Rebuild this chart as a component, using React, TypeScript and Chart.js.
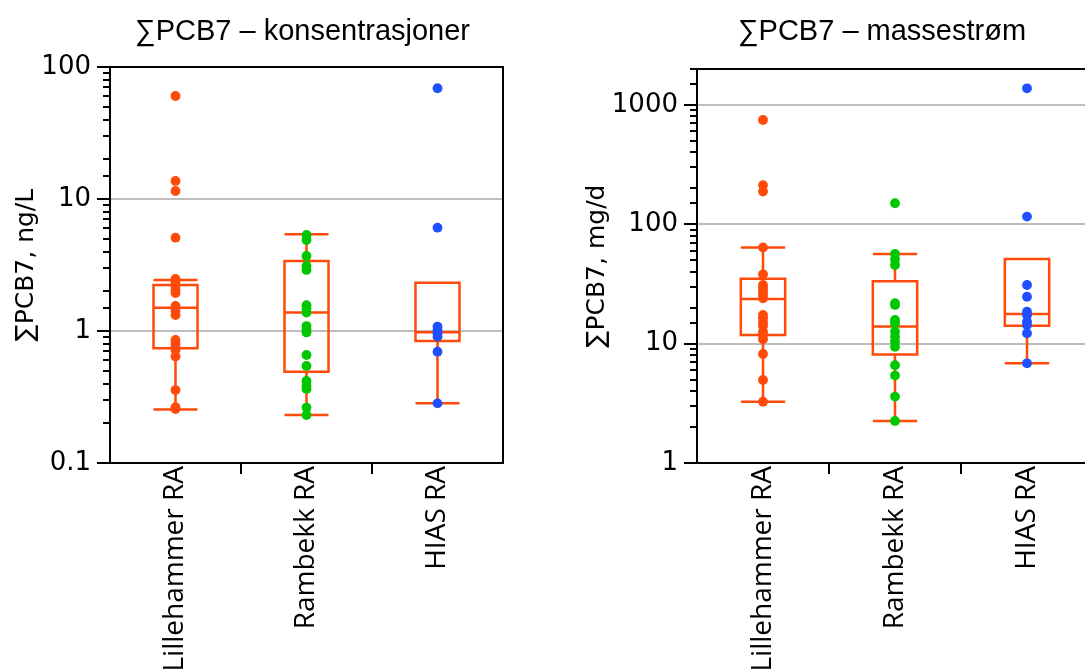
import { useEffect, useRef } from 'react';
import Chart from 'chart.js/auto';

const categories = ['Lillehammer RA', 'Rambekk RA', 'HIAS RA'];
const pointColors = ['#FF4A0A', '#00C800', '#1E50FF'];
const boxColor = '#FF4A0A';

// ∑PCB7 concentrations, ng/L
const concLillehammer = [60.3, 13.7, 11.5, 5.09, 2.48, 2.35, 2.19, 2.05, 1.94, 1.55, 1.44, 1.32, 0.855, 0.8, 0.757, 0.718, 0.641, 0.357, 0.265, 0.256];
const concRambekk = [5.34, 4.89, 3.7, 3.11, 2.9, 1.57, 1.48, 1.38, 1.09, 1.03, 0.975, 0.658, 0.543, 0.418, 0.383, 0.364, 0.263, 0.231];
const concHias = [69, 6.06, 1.08, 1.02, 0.961, 0.906, 0.697, 0.283];

// box statistics per plant, ng/L
const concWhiskerLow = [0.254, 0.231, 0.283];
const concQ1 = [0.74, 0.492, 0.84];
const concMedian = [1.5, 1.38, 0.977];
const concQ3 = [2.23, 3.39, 2.32];
const concWhiskerHigh = [2.43, 5.41, 2.32];

// ∑PCB7 mass flow, mg/d
const flowLillehammer = [748, 213, 188, 64, 38.1, 31, 29.1, 27.3, 25.6, 24, 17.4, 16.3, 15.1, 14.1, 12.6, 11.8, 10.9, 8.2, 4.96, 3.26];
const flowRambekk = [150, 56.4, 50.9, 45.6, 21.8, 21.1, 15.8, 14.8, 12.6, 11.4, 10.4, 9.4, 6.6, 5.4, 3.6, 2.25];
const flowHias = [1378, 116, 31, 24.7, 18.5, 17.4, 15.3, 14.3, 12.2, 6.84];

// box statistics per plant, mg/d
const flowWhiskerLow = [3.26, 2.25, 6.84];
const flowQ1 = [11.8, 8.1, 14.1];
const flowMedian = [23.7, 13.9, 17.7];
const flowQ3 = [35, 33.3, 51.2];
const flowWhiskerHigh = [64, 56.4, 51.2];

const concTickLabels = ['0.1', '1', '10', '100'];
const flowTickLabels = ['1', '10', '100', '1000'];

const GRID_GRAY = '#BDBDBD';

type PanelSpec = {
  title: string;
  titleShift: number;
  yTitle: string;
  yMin: number;
  yMax: number;
  tickLabels: string[];
  series: number[][];
  low: number[];
  q1: number[];
  median: number[];
  q3: number[];
  high: number[];
  width: number;
  height: number;
  padTop: number;
  padRight: number;
  yAxisWidth: number;
  yTitlePad: number;
};

const isDecade = (v: number) => {
  const l = Math.log10(v);
  return Math.abs(l - Math.round(l)) < 1e-6;
};

function decorPlugin(spec: PanelSpec) {
  return {
    id: 'panelDecor',
    beforeDatasetsDraw(chart: any) {
      const { ctx, chartArea } = chart;
      const x = chart.scales.x;
      const y = chart.scales.y;
      const band = x.getPixelForValue(1) - x.getPixelForValue(0);
      const half = band * 0.168;
      ctx.save();
      ctx.beginPath();
      ctx.rect(chartArea.left, chartArea.top, chartArea.right - chartArea.left, chartArea.bottom - chartArea.top);
      ctx.clip();
      ctx.strokeStyle = boxColor;
      ctx.lineWidth = 2.5;
      categories.forEach((_, i) => {
        const cx = x.getPixelForValue(i);
        const yLow = y.getPixelForValue(spec.low[i]);
        const yQ1 = y.getPixelForValue(spec.q1[i]);
        const yMed = y.getPixelForValue(spec.median[i]);
        const yQ3 = y.getPixelForValue(spec.q3[i]);
        const yHigh = y.getPixelForValue(spec.high[i]);
        ctx.beginPath();
        ctx.rect(cx - half, yQ3, half * 2, yQ1 - yQ3);
        ctx.moveTo(cx - half, yMed);
        ctx.lineTo(cx + half, yMed);
        ctx.moveTo(cx, yQ1);
        ctx.lineTo(cx, yLow);
        ctx.moveTo(cx, yQ3);
        ctx.lineTo(cx, yHigh);
        ctx.moveTo(cx - half, yLow);
        ctx.lineTo(cx + half, yLow);
        ctx.moveTo(cx - half, yHigh);
        ctx.lineTo(cx + half, yHigh);
        ctx.stroke();
      });
      ctx.restore();
    },
    afterDraw(chart: any) {
      const { ctx, chartArea } = chart;
      const { left, right, top, bottom } = chartArea;
      const x = chart.scales.x;
      const y = chart.scales.y;
      ctx.save();
      ctx.strokeStyle = '#000';
      ctx.lineWidth = 2;
      // frame
      ctx.strokeRect(left, top, right - left, bottom - top);
      // y tick marks, long at decades
      ctx.beginPath();
      y.ticks.forEach((t: any) => {
        const py = Math.round(y.getPixelForValue(t.value));
        const len = isDecade(t.value) ? 13 : 7;
        ctx.moveTo(left - len, py);
        ctx.lineTo(left, py);
      });
      // x tick marks between categories
      for (let i = 0; i < categories.length - 1; i++) {
        const px = Math.round((x.getPixelForValue(i) + x.getPixelForValue(i + 1)) / 2);
        ctx.moveTo(px, bottom);
        ctx.lineTo(px, bottom + 11);
      }
      ctx.stroke();
      // panel title
      ctx.fillStyle = '#000';
      ctx.font = '29px "Liberation Sans", Arial, sans-serif';
      ctx.textAlign = 'center';
      ctx.textBaseline = 'alphabetic';
      ctx.fillText(spec.title, (left + right) / 2 + spec.titleShift, 40);
      ctx.restore();
    },
  };
}

function Panel({ spec }: { spec: PanelSpec }) {
  const ref = useRef<HTMLCanvasElement | null>(null);
  useEffect(() => {
    if (!ref.current) return;
    const datasets = spec.series.map((vals, i) => ({
      label: categories[i],
      data: vals.map((v) => ({ x: categories[i], y: v })),
      backgroundColor: pointColors[i],
      borderColor: pointColors[i],
      pointBackgroundColor: pointColors[i],
      pointBorderColor: pointColors[i],
      pointBorderWidth: 0,
      pointRadius: 4.9,
      pointHoverRadius: 4.9,
      showLine: false,
    }));
    const chart = new Chart(ref.current, {
      type: 'scatter',
      data: { labels: categories, datasets },
      options: {
        animation: false,
        responsive: false,
        devicePixelRatio: 1,
        events: [],
        layout: { padding: { top: spec.padTop, right: spec.padRight, left: 0, bottom: 0 } },
        plugins: {
          legend: { display: false },
          tooltip: { enabled: false },
          title: { display: false },
        },
        scales: {
          x: {
            type: 'category',
            labels: categories,
            offset: true,
            grid: { display: false },
            border: { display: false },
            ticks: {
              color: '#000',
              font: { family: '"Open Sans", sans-serif', size: 28 },
              minRotation: 90,
              maxRotation: 90,
              padding: -5,
              autoSkip: false,
            },
            afterFit: (scale: any) => {
              scale.height = 207;
            },
          },
          y: {
            type: 'logarithmic',
            min: spec.yMin,
            max: spec.yMax,
            border: { display: false },
            grid: {
              drawTicks: false,
              lineWidth: 2,
              color: (c: any) => (c.tick && isDecade(c.tick.value) ? GRID_GRAY : 'rgba(0,0,0,0)'),
            },
            ticks: {
              autoSkip: false,
              color: '#000',
              padding: 19,
              font: { family: '"DejaVu Sans", sans-serif', size: 26 },
              callback: (value: any) => {
                const v = Number(value);
                const m = spec.tickLabels.find((l) => Math.abs(Math.log10(Number(l)) - Math.log10(v)) < 1e-6);
                return m ?? '';
              },
            },
            title: {
              display: true,
              text: spec.yTitle,
              color: '#000',
              font: { family: '"DejaVu Sans", sans-serif', size: 25 },
              padding: { top: spec.yTitlePad, bottom: 0 },
            },
            afterFit: (scale: any) => {
              scale.width = spec.yAxisWidth;
            },
          },
        },
      },
      plugins: [decorPlugin(spec)],
    } as any);
    return () => chart.destroy();
  }, [spec]);
  return <canvas ref={ref} width={spec.width} height={spec.height} style={{ display: 'block' }} />;
}

const concSpec: PanelSpec = {
  title: '∑PCB7 – konsentrasjoner',
  titleShift: -4,
  yTitle: '∑PCB7, ng/L',
  yMin: 0.1,
  yMax: 100,
  tickLabels: concTickLabels,
  series: [concLillehammer, concRambekk, concHias],
  low: concWhiskerLow,
  q1: concQ1,
  median: concMedian,
  q3: concQ3,
  high: concWhiskerHigh,
  width: 545,
  height: 670,
  padTop: 67,
  padRight: 42,
  yAxisWidth: 110,
  yTitlePad: 11,
};

const flowSpec: PanelSpec = {
  title: '∑PCB7 – massestrøm',
  titleShift: -13,
  yTitle: '∑PCB7, mg/d',
  yMin: 1,
  yMax: 2000,
  tickLabels: flowTickLabels,
  series: [flowLillehammer, flowRambekk, flowHias],
  low: flowWhiskerLow,
  q1: flowQ1,
  median: flowMedian,
  q3: flowQ3,
  high: flowWhiskerHigh,
  width: 600,
  height: 670,
  padTop: 69,
  padRight: 52,
  yAxisWidth: 152,
  yTitlePad: 37,
};

export default function App() {
  return (
    <div
      style={{
        position: 'absolute',
        left: 0,
        top: 0,
        width: 1085,
        height: 670,
        overflow: 'hidden',
        background: '#fff',
      }}
    >
      <div style={{ position: 'absolute', left: 0, top: 0 }}>
        <Panel spec={concSpec} />
      </div>
      <div style={{ position: 'absolute', left: 545, top: 0 }}>
        <Panel spec={flowSpec} />
      </div>
    </div>
  );
}
